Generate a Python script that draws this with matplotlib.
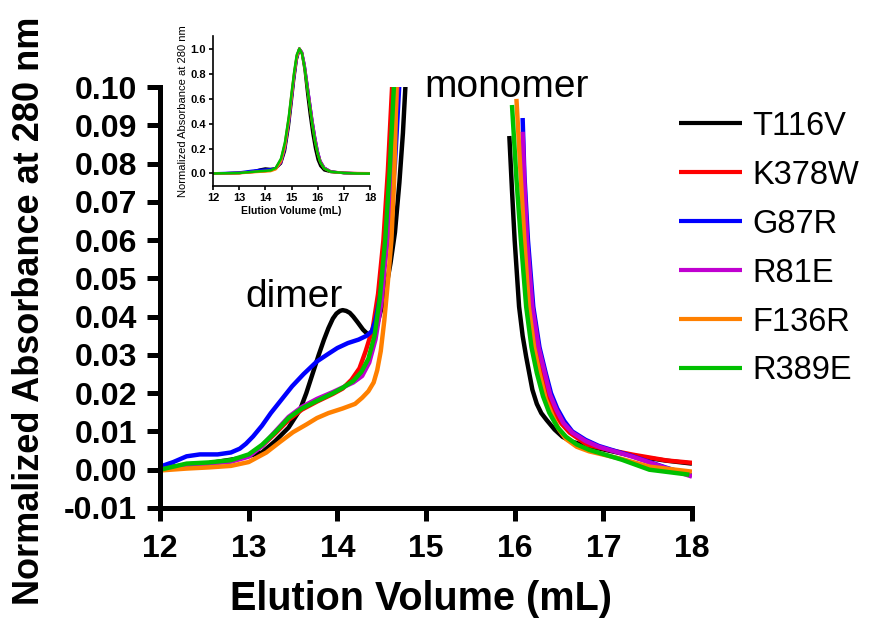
import numpy as np
import matplotlib
matplotlib.use("Agg")
import matplotlib.pyplot as plt
from matplotlib.ticker import FormatStrFormatter

# ── data (main panel: rising edge up to clip, then tail after the monomer peak) ──
NAMES  = ["T116V", "K378W", "G87R", "R81E", "F136R", "R389E"]
COLORS = ["#000000", "#ff0000", "#0000ff", "#c000d0", "#ff8000", "#00c000"]

T116V_RISE_X = [12.0, 12.5, 12.9, 13.15, 13.3, 13.45, 13.58, 13.65, 13.72, 13.79, 13.85, 13.9, 13.95, 13.99, 14.03, 14.06, 14.1, 14.14, 14.18, 14.23, 14.29, 14.33, 14.36, 14.41, 14.45, 14.53, 14.6, 14.65, 14.7, 14.74, 14.77]
T116V_RISE_Y = [0.0005, 0.0015, 0.003, 0.0045, 0.0075, 0.011, 0.0157, 0.0200, 0.025, 0.030, 0.034, 0.037, 0.0395, 0.0408, 0.0415, 0.0417, 0.0415, 0.0410, 0.0400, 0.0385, 0.0366, 0.0357, 0.0352, 0.0360, 0.038, 0.045, 0.054, 0.062, 0.075, 0.088, 0.101]
T116V_TAIL_X = [15.94, 15.97, 16.0, 16.05, 16.09, 16.13, 16.2, 16.25, 16.3, 16.36, 16.45, 16.54, 16.65, 16.8, 17.1, 17.34, 17.7, 18.0]
T116V_TAIL_Y = [0.0872, 0.073, 0.060, 0.0426, 0.035, 0.0295, 0.0209, 0.0172, 0.0148, 0.013, 0.0105, 0.0086, 0.0073, 0.0063, 0.0048, 0.0036, 0.0024, 0.0016]

K378W_RISE_X = [12.0, 12.3, 12.55, 12.8, 13.0, 13.15, 13.3, 13.45, 13.6, 13.77, 13.95, 14.06, 14.16, 14.25, 14.32, 14.4, 14.46, 14.52, 14.57, 14.62]
K378W_RISE_Y = [0.0, 0.0014, 0.0017, 0.0023, 0.0037, 0.0062, 0.0095, 0.013, 0.0157, 0.0178, 0.0198, 0.0212, 0.0235, 0.0265, 0.031, 0.037, 0.046, 0.060, 0.078, 0.101]
K378W_TAIL_X = [16.07, 16.09, 16.12, 16.17, 16.23, 16.3, 16.37, 16.45, 16.53, 16.62, 16.82, 17.1, 17.34, 17.72, 18.0]
K378W_TAIL_Y = [0.086, 0.075, 0.060, 0.0426, 0.0325, 0.0253, 0.0195, 0.0149, 0.0120, 0.0097, 0.0065, 0.0050, 0.0039, 0.0024, 0.0018]

G87R_RISE_X = [12.0, 12.15, 12.3, 12.45, 12.65, 12.8, 12.9, 12.97, 13.05, 13.15, 13.25, 13.37, 13.49, 13.62, 13.77, 13.9, 14.0, 14.12, 14.24, 14.33, 14.39, 14.43, 14.48, 14.54, 14.6, 14.65, 14.7]
G87R_RISE_Y = [0.0008, 0.002, 0.0035, 0.004, 0.004, 0.0045, 0.0055, 0.0068, 0.0087, 0.0115, 0.0148, 0.0183, 0.0218, 0.0250, 0.0283, 0.0303, 0.0318, 0.0331, 0.0340, 0.0350, 0.0362, 0.039, 0.045, 0.055, 0.067, 0.080, 0.101]
G87R_TAIL_X = [16.09, 16.11, 16.15, 16.21, 16.28, 16.35, 16.41, 16.48, 16.56, 16.65, 16.8, 16.95, 17.33, 17.7, 18.0]
G87R_TAIL_Y = [0.0919, 0.077, 0.060, 0.0426, 0.032, 0.0253, 0.0200, 0.016, 0.0127, 0.010, 0.0078, 0.0062, 0.0035, 0.0006, -0.0015]

R81E_RISE_X = [12.0, 12.3, 12.55, 12.8, 13.0, 13.15, 13.3, 13.45, 13.6, 13.77, 13.95, 14.06, 14.18, 14.28, 14.36, 14.43, 14.5, 14.56, 14.62, 14.68]
R81E_RISE_Y = [0.0, 0.0013, 0.0016, 0.0021, 0.0034, 0.0062, 0.0100, 0.0138, 0.0164, 0.0185, 0.0203, 0.0215, 0.0228, 0.0245, 0.028, 0.034, 0.044, 0.060, 0.079, 0.101]
R81E_TAIL_X = [16.09, 16.11, 16.14, 16.2, 16.27, 16.34, 16.4, 16.47, 16.55, 16.65, 16.8, 16.95, 17.33, 17.7, 18.0]
R81E_TAIL_Y = [0.0883, 0.075, 0.060, 0.0426, 0.032, 0.0253, 0.0196, 0.0157, 0.0122, 0.0097, 0.0075, 0.006, 0.0034, 0.0005, -0.0018]

F136R_RISE_X = [12.0, 12.3, 12.55, 12.8, 13.0, 13.2, 13.35, 13.5, 13.65, 13.77, 13.9, 14.06, 14.2, 14.28, 14.35, 14.41, 14.45, 14.49, 14.53, 14.57, 14.61, 14.64, 14.67]
F136R_RISE_Y = [-0.0002, 0.0003, 0.0006, 0.0010, 0.0020, 0.0045, 0.0072, 0.0098, 0.0118, 0.0135, 0.0148, 0.016, 0.0172, 0.0188, 0.0205, 0.0228, 0.026, 0.031, 0.039, 0.049, 0.060, 0.075, 0.101]
F136R_TAIL_X = [16.02, 16.07, 16.11, 16.16, 16.22, 16.28, 16.35, 16.43, 16.5, 16.58, 16.7, 16.84, 17.21, 17.52, 18.0]
F136R_TAIL_Y = [0.0969, 0.076, 0.060, 0.0426, 0.032, 0.0253, 0.0185, 0.0140, 0.0105, 0.0080, 0.0060, 0.0048, 0.0028, 0.0008, -0.0005]

R389E_RISE_X = [12.0, 12.3, 12.55, 12.8, 13.0, 13.15, 13.3, 13.45, 13.6, 13.77, 13.95, 14.06, 14.18, 14.27, 14.35, 14.42, 14.48, 14.54, 14.59, 14.64]
R389E_RISE_Y = [0.0, 0.0016, 0.0019, 0.0025, 0.004, 0.0065, 0.0098, 0.0135, 0.0160, 0.0180, 0.0200, 0.0214, 0.0232, 0.0255, 0.0290, 0.035, 0.045, 0.060, 0.078, 0.101]
R389E_TAIL_X = [15.97, 16.02, 16.07, 16.13, 16.19, 16.25, 16.32, 16.39, 16.48, 16.58, 16.7, 16.84, 17.21, 17.52, 17.97]
R389E_TAIL_Y = [0.0953, 0.076, 0.060, 0.0426, 0.032, 0.0253, 0.0192, 0.0149, 0.0112, 0.0086, 0.0066, 0.0052, 0.0026, 0.0, -0.0013]

RISE_X = [T116V_RISE_X, K378W_RISE_X, G87R_RISE_X, R81E_RISE_X, F136R_RISE_X, R389E_RISE_X]
RISE_Y = [T116V_RISE_Y, K378W_RISE_Y, G87R_RISE_Y, R81E_RISE_Y, F136R_RISE_Y, R389E_RISE_Y]
TAIL_X = [T116V_TAIL_X, K378W_TAIL_X, G87R_TAIL_X, R81E_TAIL_X, F136R_TAIL_X, R389E_TAIL_X]
TAIL_Y = [T116V_TAIL_Y, K378W_TAIL_Y, G87R_TAIL_Y, R81E_TAIL_Y, F136R_TAIL_Y, R389E_TAIL_Y]

# inset: full normalized chromatograms
INSET_X = [12.0, 12.5, 13.0, 13.5, 13.8, 14.0, 14.2, 14.4, 14.6, 14.75, 14.9, 15.0, 15.1, 15.2, 15.3, 15.4, 15.5, 15.6, 15.7, 15.8, 15.9, 16.0, 16.1, 16.25, 16.5, 17.0, 17.5, 18.0]
INSET_T116V = [0.0, 0.002, 0.004, 0.015, 0.032, 0.040, 0.036, 0.040, 0.08, 0.18, 0.38, 0.56, 0.75, 0.91, 0.99, 0.96, 0.83, 0.64, 0.47, 0.32, 0.20, 0.11, 0.06, 0.025, 0.012, 0.004, 0.002, 0.001]
INSET_K378W = [0.0, 0.002, 0.004, 0.012, 0.017, 0.020, 0.024, 0.045, 0.11, 0.24, 0.45, 0.63, 0.80, 0.94, 1.0, 0.97, 0.86, 0.71, 0.56, 0.41, 0.28, 0.17, 0.10, 0.045, 0.016, 0.005, 0.003, 0.002]
INSET_G87R  = [0.001, 0.004, 0.008, 0.022, 0.028, 0.032, 0.034, 0.042, 0.09, 0.20, 0.41, 0.59, 0.77, 0.92, 1.0, 0.97, 0.87, 0.72, 0.57, 0.42, 0.29, 0.18, 0.10, 0.047, 0.016, 0.004, 0.001, -0.001]
INSET_R81E  = [0.0, 0.002, 0.004, 0.013, 0.018, 0.021, 0.024, 0.038, 0.09, 0.21, 0.42, 0.60, 0.78, 0.93, 1.0, 0.97, 0.87, 0.72, 0.57, 0.42, 0.29, 0.18, 0.10, 0.046, 0.015, 0.004, 0.001, -0.002]
INSET_F136R = [0.0, 0.001, 0.002, 0.010, 0.014, 0.016, 0.019, 0.034, 0.10, 0.22, 0.43, 0.61, 0.79, 0.93, 1.0, 0.96, 0.85, 0.69, 0.54, 0.39, 0.26, 0.16, 0.09, 0.04, 0.013, 0.004, 0.001, 0.0]
INSET_R389E = [0.0, 0.002, 0.004, 0.013, 0.018, 0.021, 0.025, 0.045, 0.12, 0.25, 0.46, 0.64, 0.81, 0.95, 1.0, 0.96, 0.85, 0.69, 0.54, 0.39, 0.26, 0.16, 0.09, 0.04, 0.014, 0.004, 0.0, -0.001]
INSET_Y = [INSET_T116V, INSET_K378W, INSET_G87R, INSET_R81E, INSET_F136R, INSET_R389E]

X_TICKS = [12, 13, 14, 15, 16, 17, 18]
Y_TICKS = [-0.01, 0.00, 0.01, 0.02, 0.03, 0.04, 0.05, 0.06, 0.07, 0.08, 0.09, 0.10]
INSET_Y_TICKS = [0.0, 0.2, 0.4, 0.6, 0.8, 1.0]

# ── plot ──────────────────────────────────────────────────────────────────────
plt.rcParams["font.family"] = ["Liberation Sans", "DejaVu Sans"]
plt.rcParams["axes.unicode_minus"] = False

fig = plt.figure(figsize=(8.69, 6.22), dpi=100)
ax = fig.add_axes([0.1841, 0.1833, 0.6122, 0.6768])

for i, name in enumerate(NAMES):
    x = RISE_X[i] + [np.nan] + TAIL_X[i]
    y = RISE_Y[i] + [np.nan] + TAIL_Y[i]
    ax.plot(x, y, color=COLORS[i], lw=3.2, label=name,
            solid_capstyle="butt", solid_joinstyle="round")

ax.set_xlim(12, 18)
ax.set_ylim(-0.01, 0.10)
ax.set_xticks(X_TICKS)
ax.set_yticks(Y_TICKS)
ax.yaxis.set_major_formatter(FormatStrFormatter("%.2f"))
for s in ["top", "right"]:
    ax.spines[s].set_visible(False)
for s in ["left", "bottom"]:
    ax.spines[s].set_linewidth(3.6)
ax.tick_params(direction="out", length=9.5, width=3.6, labelsize=23, pad=7)
ax.tick_params(axis="x", pad=9)
for lab in ax.get_xticklabels() + ax.get_yticklabels():
    lab.set_fontweight("bold")

ax.set_xlabel("Elution Volume (mL)", fontsize=28.5, fontweight="bold")
ax.xaxis.set_label_coords(0.49, -0.172)
ax.set_ylabel("Normalized Absorbance at 280 nm", fontsize=26, fontweight="bold")
ax.yaxis.set_label_coords(-0.212, 0.468)

ax.text(15.905, 0.0974, "monomer", fontsize=28, ha="center", va="baseline")
ax.text(13.51, 0.0426, "dimer", fontsize=28, ha="center", va="baseline")

fig.legend(loc="upper left", bbox_to_anchor=(0.781, 0.822), frameon=False,
           fontsize=23.5, handlelength=1.95, handletextpad=0.3,
           labelspacing=0.55, borderpad=0, borderaxespad=0)
for line in fig.legends[0].get_lines():
    line.set_linewidth(3)

# inset
ins = fig.add_axes([0.2451, 0.701, 0.1807, 0.241])
for i, name in enumerate(NAMES):
    ins.plot(INSET_X, INSET_Y[i], color=COLORS[i], lw=1.8)
ins.set_xlim(12, 18)
ins.set_ylim(-0.1, 1.1)
ins.set_xticks(X_TICKS)
ins.set_yticks(INSET_Y_TICKS)
ins.yaxis.set_major_formatter(FormatStrFormatter("%.1f"))
for s in ["top", "right"]:
    ins.spines[s].set_visible(False)
for s in ["left", "bottom"]:
    ins.spines[s].set_linewidth(1.2)
ins.tick_params(direction="out", length=3, width=1.2, labelsize=8, pad=2)
for lab in ins.get_xticklabels() + ins.get_yticklabels():
    lab.set_fontweight("bold")
ins.set_xlabel("Elution Volume (mL)", fontsize=7.5, fontweight="bold", labelpad=2)
ins.set_ylabel("Normalized Absorbance at 280 nm", fontsize=8, labelpad=2)

fig.savefig("out.png", dpi=100, facecolor="white")
